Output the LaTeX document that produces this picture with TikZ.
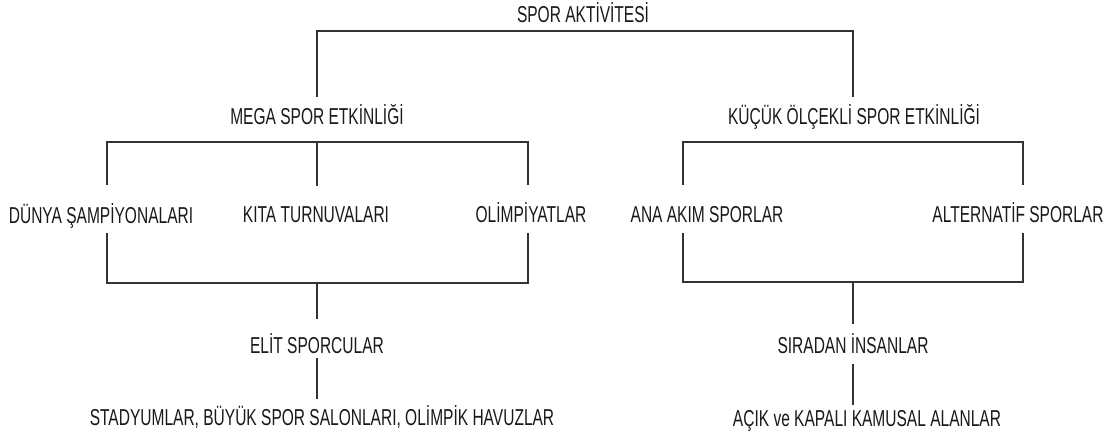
\documentclass[tikz,border=0pt]{standalone}
\usepackage{fontspec}
\setmainfont[FakeStretch=0.675]{Liberation Sans}
\begin{document}
\begin{tikzpicture}[x=1pt,y=-1pt,
  conn/.style={draw=black!80, line width=1.3pt},
  lbl/.style={anchor=base, inner sep=0pt, text=black!90, font=\fontsize{23}{26}\selectfont}]
\useasboundingbox[fill=white] (0,0) rectangle (1110,439);
% texts
\node[lbl] (title) at (583,23) {SPOR AKTİVİTESİ};
\node[lbl] (mega) at (317,124) {MEGA SPOR ETKİNLİĞİ};
\node[lbl] (kucuk) at (854,124) {KÜÇÜK ÖLÇEKLİ SPOR ETKİNLİĞİ};
\node[lbl] (dunya) at (101,223) {DÜNYA ŞAMPİYONALARI};
\node[lbl] (kita) at (316,222) {KITA TURNUVALARI};
\node[lbl] (olimp) at (531,222) {OLİMPİYATLAR};
\node[lbl] (ana) at (707,222) {ANA AKIM SPORLAR};
\node[lbl] (alt) at (1018,222) {ALTERNATİF SPORLAR};
\node[lbl] (elit) at (317,353) {ELİT SPORCULAR};
\node[lbl] (sira) at (853,353) {SIRADAN İNSANLAR};
\node[lbl] (stad) at (322,425) {STADYUMLAR, BÜYÜK SPOR SALONLARI, OLİMPİK HAVUZLAR};
\node[lbl] (acik) at (867,426) {AÇIK ve KAPALI KAMUSAL ALANLAR};
% bracket x positions
\coordinate (lx) at (107,0);
\coordinate (rx) at (528,0);
\coordinate (lx2) at (683,0);
\coordinate (rx2) at (1023,0);
% top bracket
\draw[conn] (mega |- 0,97) -- (mega |- 0,31) -- (sira |- 0,31) -- (sira |- 0,97);
% mega bracket
\draw[conn] (lx |- 0,185) -- (lx |- 0,142) -- (rx |- 0,142) -- (rx |- 0,185);
\draw[conn] (mega |- 0,142) -- (mega |- 0,186);
% small-scale bracket
\draw[conn] (lx2 |- 0,185) -- (lx2 |- 0,142) -- (rx2 |- 0,142) -- (rx2 |- 0,185);
% lower left bracket
\draw[conn] (lx |- 0,233) -- (lx |- 0,283) -- (rx |- 0,283) -- (rx |- 0,233);
\draw[conn] (elit |- 0,283) -- (elit |- 0,319);
% lower right bracket
\draw[conn] (lx2 |- 0,233) -- (lx2 |- 0,282) -- (rx2 |- 0,282) -- (rx2 |- 0,233);
\draw[conn] (sira |- 0,282) -- (sira |- 0,324);
% to bottom
\draw[conn] (elit |- 0,358) -- (elit |- 0,399);
\draw[conn] (sira |- 0,364) -- (sira |- 0,405);
\end{tikzpicture}
\end{document}
